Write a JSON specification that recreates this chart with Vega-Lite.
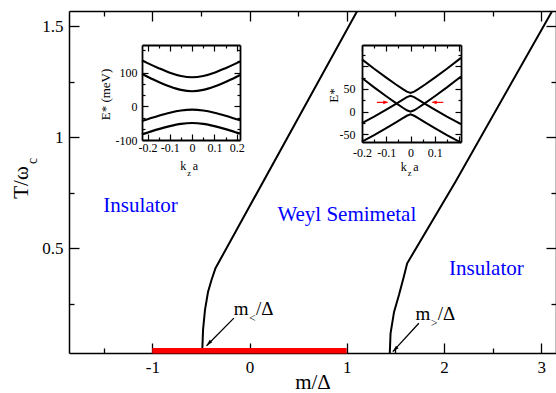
{
  "$schema": "https://vega.github.io/schema/vega-lite/v6.json",
  "width": 487,
  "height": 342,
  "autosize": {"type": "none"},
  "padding": {"left": 69, "top": 11, "right": 0, "bottom": 40},
  "background": "white",
  "config": {"view": {"stroke": null}, "axis": {"grid": false}},
  "datasets": {
    "bounds": [
      {"line": "lt", "m": -0.487, "T": 0.028},
      {"line": "lt", "m": -0.478, "T": 0.132},
      {"line": "lt", "m": -0.458, "T": 0.222},
      {"line": "lt", "m": -0.427, "T": 0.303},
      {"line": "lt", "m": -0.391, "T": 0.357},
      {"line": "lt", "m": -0.350, "T": 0.410},
      {"line": "lt", "m": 1.147, "T": 1.6},
      {"line": "gt", "m": 1.443, "T": 0.028},
      {"line": "gt", "m": 1.451, "T": 0.117},
      {"line": "gt", "m": 1.487, "T": 0.213},
      {"line": "gt", "m": 1.538, "T": 0.290},
      {"line": "gt", "m": 1.584, "T": 0.366},
      {"line": "gt", "m": 1.622, "T": 0.432},
      {"line": "gt", "m": 2.119, "T": 0.800},
      {"line": "gt", "m": 3.154, "T": 1.6}
    ],
    "bar": [{"m1": -1, "m2": 1, "T": 0.038}],
    "labels": [
      {"m": -1.121, "T": 0.6635, "t": "Insulator"},
      {"m": 1.001, "T": 0.623, "t": "Weyl Semimetal"},
      {"m": 2.437, "T": 0.380, "t": "Insulator"}
    ],
    "annot": [
      {"m": -0.161, "T": 0.1995, "t": "m", "kind": "main"},
      {"m": -0.005, "T": 0.169, "t": "<", "kind": "sub"},
      {"m": 0.067, "T": 0.1995, "t": "/Δ", "kind": "main"},
      {"m": 1.708, "T": 0.177, "t": "m", "kind": "main"},
      {"m": 1.864, "T": 0.145, "t": ">", "kind": "sub"},
      {"m": 1.936, "T": 0.177, "t": "/Δ", "kind": "main"}
    ],
    "ysub": [{"m": -2.186, "T": 0.880, "t": "c"}],
    "arrows": [
      {"m1": -0.161, "T1": 0.185, "m2": -0.442, "T2": 0.061},
      {"m1": 1.742, "T1": 0.162, "m2": 1.474, "T2": 0.034}
    ],
    "inset1": [
      {"band": "b1", "k": -0.225, "E": 136.1}, {"band": "b1", "k": -0.2, "E": 128.2}, {"band": "b1", "k": -0.15, "E": 113.2}, {"band": "b1", "k": -0.1, "E": 99.8}, {"band": "b1", "k": -0.05, "E": 90.1}, {"band": "b1", "k": 0, "E": 86.3}, {"band": "b1", "k": 0.05, "E": 90.1}, {"band": "b1", "k": 0.1, "E": 99.8}, {"band": "b1", "k": 0.15, "E": 113.2}, {"band": "b1", "k": 0.2, "E": 128.2}, {"band": "b1", "k": 0.215, "E": 132.9},
      {"band": "b2", "k": -0.225, "E": 96.1}, {"band": "b2", "k": -0.2, "E": 87.9}, {"band": "b2", "k": -0.15, "E": 72.3}, {"band": "b2", "k": -0.1, "E": 58.7}, {"band": "b2", "k": -0.05, "E": 48.6}, {"band": "b2", "k": 0, "E": 44.7}, {"band": "b2", "k": 0.05, "E": 48.6}, {"band": "b2", "k": 0.1, "E": 58.7}, {"band": "b2", "k": 0.15, "E": 72.3}, {"band": "b2", "k": 0.2, "E": 87.9}, {"band": "b2", "k": 0.215, "E": 92.8},
      {"band": "b3", "k": -0.225, "E": -43.8}, {"band": "b3", "k": -0.2, "E": -38.4}, {"band": "b3", "k": -0.15, "E": -28.1}, {"band": "b3", "k": -0.1, "E": -19.1}, {"band": "b3", "k": -0.05, "E": -12.5}, {"band": "b3", "k": 0, "E": -9.9}, {"band": "b3", "k": 0.05, "E": -12.5}, {"band": "b3", "k": 0.1, "E": -19.1}, {"band": "b3", "k": 0.15, "E": -28.1}, {"band": "b3", "k": 0.2, "E": -38.4}, {"band": "b3", "k": 0.215, "E": -41.6},
      {"band": "b4", "k": -0.225, "E": -83.4}, {"band": "b4", "k": -0.2, "E": -78.0}, {"band": "b4", "k": -0.15, "E": -67.7}, {"band": "b4", "k": -0.1, "E": -58.8}, {"band": "b4", "k": -0.05, "E": -52.1}, {"band": "b4", "k": 0, "E": -49.5}, {"band": "b4", "k": 0.05, "E": -52.1}, {"band": "b4", "k": 0.1, "E": -58.8}, {"band": "b4", "k": 0.15, "E": -67.7}, {"band": "b4", "k": 0.2, "E": -78.0}, {"band": "b4", "k": 0.215, "E": -81.2}
    ],
    "inset2": [
      {"band": "b1", "k": -0.2, "E": 115.1}, {"band": "b1", "k": -0.15, "E": 94.5}, {"band": "b1", "k": -0.1, "E": 74.9}, {"band": "b1", "k": -0.06, "E": 59.8}, {"band": "b1", "k": -0.03, "E": 49.1}, {"band": "b1", "k": -0.015, "E": 44.1}, {"band": "b1", "k": 0, "E": 41}, {"band": "b1", "k": 0.015, "E": 44.1}, {"band": "b1", "k": 0.03, "E": 49.1}, {"band": "b1", "k": 0.06, "E": 59.8}, {"band": "b1", "k": 0.1, "E": 74.9}, {"band": "b1", "k": 0.15, "E": 94.5}, {"band": "b1", "k": 0.208, "E": 118.4},
      {"band": "b2", "k": -0.2, "E": -25.1}, {"band": "b2", "k": -0.15, "E": -10.7}, {"band": "b2", "k": -0.1, "E": 4.6}, {"band": "b2", "k": -0.06, "E": 17.4}, {"band": "b2", "k": -0.03, "E": 27.2}, {"band": "b2", "k": -0.015, "E": 32.0}, {"band": "b2", "k": 0, "E": 35}, {"band": "b2", "k": 0.015, "E": 32.0}, {"band": "b2", "k": 0.03, "E": 27.2}, {"band": "b2", "k": 0.06, "E": 17.4}, {"band": "b2", "k": 0.1, "E": 4.6}, {"band": "b2", "k": 0.15, "E": -10.7}, {"band": "b2", "k": 0.208, "E": -27.3},
      {"band": "b3", "k": -0.2, "E": 74.1}, {"band": "b3", "k": -0.15, "E": 53.5}, {"band": "b3", "k": -0.1, "E": 33.9}, {"band": "b3", "k": -0.06, "E": 18.8}, {"band": "b3", "k": -0.03, "E": 8.1}, {"band": "b3", "k": -0.015, "E": 3.1}, {"band": "b3", "k": 0, "E": 0}, {"band": "b3", "k": 0.015, "E": 3.1}, {"band": "b3", "k": 0.03, "E": 8.1}, {"band": "b3", "k": 0.06, "E": 18.8}, {"band": "b3", "k": 0.1, "E": 33.9}, {"band": "b3", "k": 0.15, "E": 53.5}, {"band": "b3", "k": 0.208, "E": 77.4},
      {"band": "b4", "k": -0.2, "E": -66.1}, {"band": "b4", "k": -0.15, "E": -51.7}, {"band": "b4", "k": -0.1, "E": -36.4}, {"band": "b4", "k": -0.06, "E": -23.6}, {"band": "b4", "k": -0.03, "E": -13.8}, {"band": "b4", "k": -0.015, "E": -9.0}, {"band": "b4", "k": 0, "E": -6}, {"band": "b4", "k": 0.015, "E": -9.0}, {"band": "b4", "k": 0.03, "E": -13.8}, {"band": "b4", "k": 0.06, "E": -23.6}, {"band": "b4", "k": 0.1, "E": -36.4}, {"band": "b4", "k": 0.15, "E": -51.7}, {"band": "b4", "k": 0.208, "E": -68.3}
    ],
    "redarrows": [
      {"k1": -0.139, "k2": -0.095, "tip": -0.0915, "E": 20.5, "dir": "right"},
      {"k1": 0.135, "k2": 0.091, "tip": 0.087, "E": 20.5, "dir": "left"}
    ],
    "ktitle1": [
      {"k": -0.0535, "E": -190.5, "t": "k", "kind": "main"},
      {"k": -0.022, "E": -206.8, "t": "z", "kind": "sub"},
      {"k": 0.0031, "E": -190.5, "t": "a", "kind": "main"}
    ],
    "ktitle2": [
      {"k": -0.0405, "E": -129.4, "t": "k", "kind": "main"},
      {"k": -0.0116, "E": -141.5, "t": "z", "kind": "sub"},
      {"k": 0.0115, "E": -129.4, "t": "a", "kind": "main"}
    ]
  },
  "layer": [
    {
      "data": {"name": "bounds"},
      "mark": {"type": "line", "color": "black", "strokeWidth": 2, "clip": true},
      "encoding": {
        "x": {"field": "m", "type": "quantitative",
          "scale": {"domain": [-1.857, 3.153], "nice": false, "zero": false},
          "axis": {"orient": "bottom", "values": [-1.5, -1, -0.5, 0, 0.5, 1, 1.5, 2, 2.5, 3], "labels": false, "title": null,
            "tickSize": {"condition": {"test": "datum.value % 1 === 0", "value": -10}, "value": -5},
            "tickWidth": 1.3, "tickColor": "black", "domainColor": "black", "domainWidth": 1.5, "grid": false}},
        "y": {"field": "T", "type": "quantitative",
          "scale": {"domain": [0.028, 1.569], "nice": false, "zero": false},
          "axis": {"orient": "left", "values": [0.25, 0.5, 0.75, 1, 1.25, 1.5], "labels": false, "title": null,
            "tickSize": {"condition": {"test": "datum.value % 0.5 === 0", "value": -10}, "value": -5},
            "tickWidth": 1.3, "tickColor": "black", "domainColor": "black", "domainWidth": 1.5, "grid": false}},
        "detail": {"field": "line"},
        "order": {"field": "T", "type": "quantitative"}
      }
    },
    {
      "data": {"name": "bounds"},
      "mark": {"type": "point", "opacity": 0},
      "encoding": {
        "x": {"field": "m", "type": "quantitative",
          "scale": {"domain": [-1.857, 3.153], "nice": false, "zero": false},
          "axis": {"orient": "top", "values": [-1.5, -1, -0.5, 0, 0.5, 1, 1.5, 2, 2.5, 3], "labels": false, "title": null,
            "tickSize": {"condition": {"test": "datum.value % 1 === 0", "value": -10}, "value": -5},
            "tickWidth": 1.3, "tickColor": "black", "domainColor": "black", "domainWidth": 1.5, "grid": false}},
        "y": {"field": "T", "type": "quantitative",
          "scale": {"domain": [0.028, 1.569], "nice": false, "zero": false},
          "axis": {"orient": "right", "values": [0.25, 0.5, 0.75, 1, 1.25, 1.5], "labels": false, "title": null,
            "tickSize": {"condition": {"test": "datum.value % 0.5 === 0", "value": -10}, "value": -5},
            "tickWidth": 1.3, "tickColor": "black", "domainColor": "black", "domainWidth": 1.5, "grid": false}}
      }
    },
    {
      "data": {"name": "bounds"},
      "mark": {"type": "point", "opacity": 0},
      "encoding": {
        "x": {"field": "m", "type": "quantitative",
          "scale": {"domain": [-1.857, 3.153], "nice": false, "zero": false},
          "axis": {"orient": "bottom", "values": [-1, 0, 1, 2, 3], "ticks": false, "domain": false,
            "labelExpr": "'' + datum.value",
            "labelFont": "Liberation Serif", "labelFontSize": 17, "labelColor": "black", "labelPadding": 6,
            "labelFlush": false, "labelOverlap": false, "labelBound": false,
            "title": "m/Δ", "titleFont": "Liberation Serif", "titleFontSize": 21, "titleFontWeight": "normal", "titleColor": "black",
            "titleBaseline": "alphabetic", "titleAlign": "center", "titleX": 243.5, "titleY": 35, "grid": false}},
        "y": {"field": "T", "type": "quantitative",
          "scale": {"domain": [0.028, 1.569], "nice": false, "zero": false},
          "axis": {"orient": "left", "values": [0.5, 1, 1.5], "ticks": false, "domain": false,
            "labelExpr": "'' + datum.value",
            "labelFont": "Liberation Serif", "labelFontSize": 17, "labelColor": "black", "labelPadding": 6,
            "labelFlush": false, "labelOverlap": false, "labelBound": false,
            "title": "T/ω", "titleFont": "Liberation Serif", "titleFontSize": 21, "titleFontWeight": "normal", "titleColor": "black",
            "titleAngle": 270, "titleBaseline": "alphabetic", "titleAlign": "center", "titleX": -42, "titleY": 171, "grid": false}}
      }
    },
    {
      "data": {"name": "bar"},
      "mark": {"type": "rule", "color": "#ff0000", "strokeWidth": 5.5},
      "encoding": {
        "x": {"field": "m1", "type": "quantitative", "scale": {"domain": [-1.857, 3.153], "nice": false, "zero": false}, "axis": null},
        "x2": {"field": "m2"},
        "y": {"field": "T", "type": "quantitative", "scale": {"domain": [0.028, 1.569], "nice": false, "zero": false}, "axis": null}
      }
    },
    {
      "data": {"name": "labels"},
      "mark": {"type": "text", "font": "Liberation Serif", "fontSize": 21, "color": "#0000ff", "align": "center", "baseline": "alphabetic"},
      "encoding": {
        "x": {"field": "m", "type": "quantitative", "scale": {"domain": [-1.857, 3.153], "nice": false, "zero": false}, "axis": null},
        "y": {"field": "T", "type": "quantitative", "scale": {"domain": [0.028, 1.569], "nice": false, "zero": false}, "axis": null},
        "text": {"field": "t"}
      }
    },
    {
      "data": {"name": "annot"},
      "transform": [{"filter": "datum.kind === 'main'"}],
      "mark": {"type": "text", "font": "Liberation Serif", "fontSize": 19, "color": "black", "align": "left", "baseline": "alphabetic"},
      "encoding": {
        "x": {"field": "m", "type": "quantitative", "scale": {"domain": [-1.857, 3.153], "nice": false, "zero": false}, "axis": null},
        "y": {"field": "T", "type": "quantitative", "scale": {"domain": [0.028, 1.569], "nice": false, "zero": false}, "axis": null},
        "text": {"field": "t"}
      }
    },
    {
      "data": {"name": "annot"},
      "transform": [{"filter": "datum.kind === 'sub'"}],
      "mark": {"type": "text", "font": "Liberation Serif", "fontSize": 12, "color": "black", "align": "left", "baseline": "alphabetic"},
      "encoding": {
        "x": {"field": "m", "type": "quantitative", "scale": {"domain": [-1.857, 3.153], "nice": false, "zero": false}, "axis": null},
        "y": {"field": "T", "type": "quantitative", "scale": {"domain": [0.028, 1.569], "nice": false, "zero": false}, "axis": null},
        "text": {"field": "t"}
      }
    },
    {
      "data": {"name": "ysub"},
      "mark": {"type": "text", "font": "Liberation Serif", "fontSize": 14, "color": "black", "align": "left", "baseline": "alphabetic", "angle": 270},
      "encoding": {
        "x": {"field": "m", "type": "quantitative", "scale": {"domain": [-1.857, 3.153], "nice": false, "zero": false}, "axis": null},
        "y": {"field": "T", "type": "quantitative", "scale": {"domain": [0.028, 1.569], "nice": false, "zero": false}, "axis": null},
        "text": {"field": "t"}
      }
    },
    {
      "data": {"name": "arrows"},
      "mark": {"type": "rule", "color": "black", "strokeWidth": 1.3},
      "encoding": {
        "x": {"field": "m1", "type": "quantitative", "scale": {"domain": [-1.857, 3.153], "nice": false, "zero": false}, "axis": null},
        "y": {"field": "T1", "type": "quantitative", "scale": {"domain": [0.028, 1.569], "nice": false, "zero": false}, "axis": null},
        "x2": {"field": "m2"},
        "y2": {"field": "T2"}
      }
    },
    {
      "data": {"name": "arrows"},
      "mark": {"type": "point", "shape": "M0,0L-0.45,1.6L0.45,1.6Z", "filled": true, "color": "black", "opacity": 1, "size": 64, "angle": 224},
      "encoding": {
        "x": {"field": "m2", "type": "quantitative", "scale": {"domain": [-1.857, 3.153], "nice": false, "zero": false}, "axis": null},
        "y": {"field": "T2", "type": "quantitative", "scale": {"domain": [0.028, 1.569], "nice": false, "zero": false}, "axis": null}
      }
    },
    {
      "data": {"name": "inset1"},
      "mark": {"type": "line", "color": "black", "strokeWidth": 2.2, "interpolate": "monotone", "clip": true},
      "encoding": {
        "x": {"field": "k", "type": "quantitative",
          "scale": {"domain": [-0.225, 0.215], "range": [73, 171], "nice": false, "zero": false},
          "axis": {"orient": "bottom", "offset": -213, "values": [-0.2, -0.15, -0.1, -0.05, 0, 0.05, 0.1, 0.15, 0.2], "labels": false, "title": null,
            "tickSize": {"condition": {"test": "abs(datum.value*10 - round(datum.value*10)) < 1e-6", "value": -6}, "value": -3},
            "tickWidth": 1.2, "tickColor": "black", "domainColor": "black", "domainWidth": 1.8, "grid": false}},
        "y": {"field": "E", "type": "quantitative",
          "scale": {"domain": [-100, 182], "range": [129, 34], "nice": false, "zero": false},
          "axis": {"orient": "left", "offset": -73, "values": [-100, -66.667, -33.333, 0, 33.333, 66.667, 100, 133.333, 166.667], "labels": false, "title": null,
            "tickSize": {"condition": {"test": "abs(datum.value/100 - round(datum.value/100)) < 1e-6", "value": -6}, "value": -3},
            "tickWidth": 1.2, "tickColor": "black", "domainColor": "black", "domainWidth": 1.8, "grid": false}},
        "detail": {"field": "band"}
      }
    },
    {
      "data": {"name": "inset1"},
      "mark": {"type": "point", "opacity": 0},
      "encoding": {
        "x": {"field": "k", "type": "quantitative",
          "scale": {"domain": [-0.225, 0.215], "range": [73, 171], "nice": false, "zero": false},
          "axis": {"orient": "top", "offset": -34, "values": [-0.2, -0.15, -0.1, -0.05, 0, 0.05, 0.1, 0.15, 0.2], "labels": false, "title": null,
            "tickSize": {"condition": {"test": "abs(datum.value*10 - round(datum.value*10)) < 1e-6", "value": -6}, "value": -3},
            "tickWidth": 1.2, "tickColor": "black", "domainColor": "black", "domainWidth": 1.8, "grid": false}},
        "y": {"field": "E", "type": "quantitative",
          "scale": {"domain": [-100, 182], "range": [129, 34], "nice": false, "zero": false},
          "axis": {"orient": "right", "offset": -316, "values": [-100, -66.667, -33.333, 0, 33.333, 66.667, 100, 133.333, 166.667], "labels": false, "title": null,
            "tickSize": {"condition": {"test": "abs(datum.value/100 - round(datum.value/100)) < 1e-6", "value": -6}, "value": -3},
            "tickWidth": 1.2, "tickColor": "black", "domainColor": "black", "domainWidth": 1.8, "grid": false}}
      }
    },
    {
      "data": {"name": "inset1"},
      "mark": {"type": "point", "opacity": 0},
      "encoding": {
        "x": {"field": "k", "type": "quantitative",
          "scale": {"domain": [-0.225, 0.215], "range": [73, 171], "nice": false, "zero": false},
          "axis": {"orient": "bottom", "offset": -213, "values": [-0.2, -0.1, 0, 0.1, 0.2], "ticks": false, "domain": false,
            "labelExpr": "'' + datum.value",
            "labelFont": "Liberation Serif", "labelFontSize": 12, "labelColor": "black", "labelPadding": 2,
            "labelFlush": false, "labelOverlap": false, "labelBound": false, "title": null, "grid": false}},
        "y": {"field": "E", "type": "quantitative",
          "scale": {"domain": [-100, 182], "range": [129, 34], "nice": false, "zero": false},
          "axis": {"orient": "left", "offset": -73, "values": [-100, 0, 100], "ticks": false, "domain": false,
            "labelExpr": "'' + datum.value",
            "labelFont": "Liberation Serif", "labelFontSize": 12, "labelColor": "black", "labelPadding": 5,
            "labelFlush": false, "labelOverlap": false, "labelBound": false,
            "title": "E* (meV)", "titleFont": "Liberation Serif", "titleFontSize": 13, "titleFontWeight": "normal", "titleColor": "black",
            "titleAngle": 270, "titleBaseline": "alphabetic", "titleAlign": "center", "titleX": -33, "titleY": 83, "grid": false}}
      }
    },
    {
      "data": {"name": "ktitle1"},
      "transform": [{"filter": "datum.kind === 'main'"}],
      "mark": {"type": "text", "font": "Liberation Serif", "fontSize": 12, "color": "black", "align": "left", "baseline": "alphabetic"},
      "encoding": {
        "x": {"field": "k", "type": "quantitative", "scale": {"domain": [-0.225, 0.215], "range": [73, 171], "nice": false, "zero": false}, "axis": null},
        "y": {"field": "E", "type": "quantitative", "scale": {"domain": [-100, 182], "range": [129, 34], "nice": false, "zero": false}, "axis": null},
        "text": {"field": "t"}
      }
    },
    {
      "data": {"name": "ktitle1"},
      "transform": [{"filter": "datum.kind === 'sub'"}],
      "mark": {"type": "text", "font": "Liberation Serif", "fontSize": 8.5, "color": "black", "align": "left", "baseline": "alphabetic"},
      "encoding": {
        "x": {"field": "k", "type": "quantitative", "scale": {"domain": [-0.225, 0.215], "range": [73, 171], "nice": false, "zero": false}, "axis": null},
        "y": {"field": "E", "type": "quantitative", "scale": {"domain": [-100, 182], "range": [129, 34], "nice": false, "zero": false}, "axis": null},
        "text": {"field": "t"}
      }
    },
    {
      "data": {"name": "inset2"},
      "mark": {"type": "line", "color": "black", "strokeWidth": 2, "clip": true},
      "encoding": {
        "x": {"field": "k", "type": "quantitative",
          "scale": {"domain": [-0.2, 0.208], "range": [293, 392], "nice": false, "zero": false},
          "axis": {"orient": "bottom", "offset": -211, "values": [-0.2, -0.15, -0.1, -0.05, 0, 0.05, 0.1, 0.15, 0.2], "labels": false, "title": null,
            "tickSize": {"condition": {"test": "abs(datum.value*10 - round(datum.value*10)) < 1e-6", "value": -6}, "value": -3},
            "tickWidth": 1.2, "tickColor": "black", "domainColor": "black", "domainWidth": 1.8, "grid": false}},
        "y": {"field": "E", "type": "quantitative",
          "scale": {"domain": [-66.7, 146.7], "range": [131, 34], "nice": false, "zero": false},
          "axis": {"orient": "left", "offset": -293, "values": [-50, -25, 0, 25, 50, 75, 100, 125], "labels": false, "title": null,
            "tickSize": {"condition": {"test": "datum.value % 50 === 0", "value": -6}, "value": -3},
            "tickWidth": 1.2, "tickColor": "black", "domainColor": "black", "domainWidth": 1.8, "grid": false}},
        "detail": {"field": "band"}
      }
    },
    {
      "data": {"name": "inset2"},
      "mark": {"type": "point", "opacity": 0},
      "encoding": {
        "x": {"field": "k", "type": "quantitative",
          "scale": {"domain": [-0.2, 0.208], "range": [293, 392], "nice": false, "zero": false},
          "axis": {"orient": "top", "offset": -34, "values": [-0.2, -0.15, -0.1, -0.05, 0, 0.05, 0.1, 0.15, 0.2], "labels": false, "title": null,
            "tickSize": {"condition": {"test": "abs(datum.value*10 - round(datum.value*10)) < 1e-6", "value": -6}, "value": -3},
            "tickWidth": 1.2, "tickColor": "black", "domainColor": "black", "domainWidth": 1.8, "grid": false}},
        "y": {"field": "E", "type": "quantitative",
          "scale": {"domain": [-66.7, 146.7], "range": [131, 34], "nice": false, "zero": false},
          "axis": {"orient": "right", "offset": -95, "values": [-50, -25, 0, 25, 50, 75, 100, 125], "labels": false, "title": null,
            "tickSize": {"condition": {"test": "datum.value % 50 === 0", "value": -6}, "value": -3},
            "tickWidth": 1.2, "tickColor": "black", "domainColor": "black", "domainWidth": 1.8, "grid": false}}
      }
    },
    {
      "data": {"name": "inset2"},
      "mark": {"type": "point", "opacity": 0},
      "encoding": {
        "x": {"field": "k", "type": "quantitative",
          "scale": {"domain": [-0.2, 0.208], "range": [293, 392], "nice": false, "zero": false},
          "axis": {"orient": "bottom", "offset": -211, "values": [-0.2, -0.1, 0, 0.1], "ticks": false, "domain": false,
            "labelExpr": "'' + datum.value",
            "labelFont": "Liberation Serif", "labelFontSize": 12, "labelColor": "black", "labelPadding": 5,
            "labelFlush": false, "labelOverlap": false, "labelBound": false, "title": null, "grid": false}},
        "y": {"field": "E", "type": "quantitative",
          "scale": {"domain": [-66.7, 146.7], "range": [131, 34], "nice": false, "zero": false},
          "axis": {"orient": "left", "offset": -293, "values": [-50, 0, 50], "ticks": false, "domain": false,
            "labelExpr": "'' + datum.value",
            "labelFont": "Liberation Serif", "labelFontSize": 12, "labelColor": "black", "labelPadding": 7,
            "labelFlush": false, "labelOverlap": false, "labelBound": false,
            "title": "E*", "titleFont": "Liberation Serif", "titleFontSize": 13, "titleFontWeight": "normal", "titleColor": "black",
            "titleAngle": 270, "titleBaseline": "alphabetic", "titleAlign": "center", "titleX": -25, "titleY": 84, "grid": false}}
      }
    },
    {
      "data": {"name": "redarrows"},
      "mark": {"type": "rule", "color": "#ff0000", "strokeWidth": 1.2},
      "encoding": {
        "x": {"field": "k1", "type": "quantitative", "scale": {"domain": [-0.2, 0.208], "range": [293, 392], "nice": false, "zero": false}, "axis": null},
        "x2": {"field": "k2"},
        "y": {"field": "E", "type": "quantitative", "scale": {"domain": [-66.7, 146.7], "range": [131, 34], "nice": false, "zero": false}, "axis": null}
      }
    },
    {
      "data": {"name": "redarrows"},
      "transform": [{"filter": "datum.dir === 'right'"}],
      "mark": {"type": "point", "shape": "M0,0L-0.6,1.6L0.6,1.6Z", "filled": true, "color": "#ff0000", "opacity": 1, "size": 40, "angle": 90},
      "encoding": {
        "x": {"field": "tip", "type": "quantitative", "scale": {"domain": [-0.2, 0.208], "range": [293, 392], "nice": false, "zero": false}, "axis": null},
        "y": {"field": "E", "type": "quantitative", "scale": {"domain": [-66.7, 146.7], "range": [131, 34], "nice": false, "zero": false}, "axis": null}
      }
    },
    {
      "data": {"name": "redarrows"},
      "transform": [{"filter": "datum.dir === 'left'"}],
      "mark": {"type": "point", "shape": "M0,0L-0.6,1.6L0.6,1.6Z", "filled": true, "color": "#ff0000", "opacity": 1, "size": 40, "angle": 270},
      "encoding": {
        "x": {"field": "tip", "type": "quantitative", "scale": {"domain": [-0.2, 0.208], "range": [293, 392], "nice": false, "zero": false}, "axis": null},
        "y": {"field": "E", "type": "quantitative", "scale": {"domain": [-66.7, 146.7], "range": [131, 34], "nice": false, "zero": false}, "axis": null}
      }
    },
    {
      "data": {"name": "ktitle2"},
      "transform": [{"filter": "datum.kind === 'main'"}],
      "mark": {"type": "text", "font": "Liberation Serif", "fontSize": 12, "color": "black", "align": "left", "baseline": "alphabetic"},
      "encoding": {
        "x": {"field": "k", "type": "quantitative", "scale": {"domain": [-0.2, 0.208], "range": [293, 392], "nice": false, "zero": false}, "axis": null},
        "y": {"field": "E", "type": "quantitative", "scale": {"domain": [-66.7, 146.7], "range": [131, 34], "nice": false, "zero": false}, "axis": null},
        "text": {"field": "t"}
      }
    },
    {
      "data": {"name": "ktitle2"},
      "transform": [{"filter": "datum.kind === 'sub'"}],
      "mark": {"type": "text", "font": "Liberation Serif", "fontSize": 8.5, "color": "black", "align": "left", "baseline": "alphabetic"},
      "encoding": {
        "x": {"field": "k", "type": "quantitative", "scale": {"domain": [-0.2, 0.208], "range": [293, 392], "nice": false, "zero": false}, "axis": null},
        "y": {"field": "E", "type": "quantitative", "scale": {"domain": [-66.7, 146.7], "range": [131, 34], "nice": false, "zero": false}, "axis": null},
        "text": {"field": "t"}
      }
    }
  ],
  "resolve": {"scale": {"x": "independent", "y": "independent"}}
}
